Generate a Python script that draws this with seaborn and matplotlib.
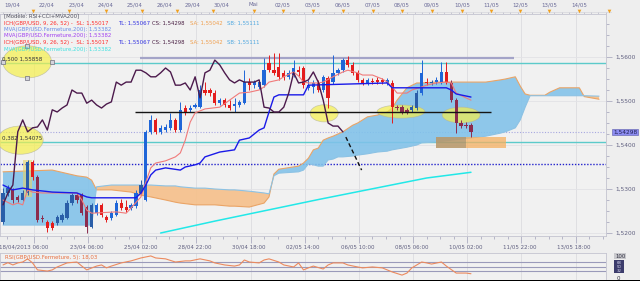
import numpy as np
import matplotlib
matplotlib.use("Agg")
import matplotlib.pyplot as plt
import matplotlib.transforms as mtrans
from matplotlib.patches import Rectangle, Ellipse
from matplotlib.ticker import MultipleLocator
import seaborn as sns

sns.set_theme(style="white")
plt.rcParams["font.family"] = ["DejaVu Sans"]

# ---------------- data ----------------
opens = [1.5225,1.5291,1.5298,1.5282,1.5275,1.5291,1.5361,1.5327,1.5234,1.5225,
         1.5223,1.5223,1.5230,1.5234,1.5268,1.5286,1.5286,1.5259,1.5214,1.5245,
         1.5264,1.5236,1.5234,1.5241,1.5268,1.5259,1.5257,1.5261,1.5291,1.5275,
         1.5430,1.5457,1.5430,1.5434,1.5439,1.5457,1.5434,1.5484,1.5480,1.5486,
         1.5486,1.5525,1.5525,1.5518,1.5495,1.5502,1.5491,1.5489,1.5491,1.5495,
         1.5543,1.5536,1.5532,1.5536,1.5586,1.5570,1.5577,1.5564,1.5555,1.5559,
         1.5570,1.5575,1.5530,1.5532,1.5541,1.5525,1.5552,1.5543,1.5564,1.5570,
         1.5593,1.5582,1.5564,1.5548,1.5541,1.5545,1.5548,1.5548,1.5541,1.5541,
         1.5486,1.5486,1.5480,1.5480,1.5484,1.5518,1.5543,1.5541,1.5543,1.5543,
         1.5566,1.5541,1.5502,1.5450,1.5445,1.5445]
closes = [1.5291,1.5302,1.5275,1.5275,1.5291,1.5361,1.5327,1.5230,1.5232,1.5211,
          1.5211,1.5236,1.5241,1.5268,1.5286,1.5275,1.5245,1.5214,1.5264,1.5264,
          1.5241,1.5230,1.5245,1.5268,1.5257,1.5252,1.5264,1.5291,1.5309,1.5430,
          1.5457,1.5430,1.5439,1.5441,1.5457,1.5434,1.5480,1.5475,1.5484,1.5491,
          1.5525,1.5518,1.5518,1.5495,1.5502,1.5491,1.5484,1.5493,1.5498,1.5543,
          1.5536,1.5543,1.5543,1.5570,1.5570,1.5564,1.5555,1.5555,1.5564,1.5575,
          1.5566,1.5536,1.5536,1.5541,1.5525,1.5555,1.5507,1.5564,1.5570,1.5593,
          1.5582,1.5564,1.5548,1.5541,1.5548,1.5543,1.5543,1.5543,1.5548,1.5486,
          1.5484,1.5475,1.5475,1.5486,1.5518,1.5564,1.5541,1.5543,1.5548,1.5566,
          1.5543,1.5502,1.5450,1.5443,1.5443,1.54298]
highs = [1.5302,1.5309,1.5302,1.5286,1.5298,1.5366,1.5366,1.5332,1.5241,1.5230,
         1.5227,1.5241,1.5245,1.5275,1.5291,1.5291,1.5291,1.5264,1.5268,1.5268,
         1.5268,1.5241,1.5250,1.5275,1.5277,1.5275,1.5268,1.5298,1.5320,1.5434,
         1.5468,1.5461,1.5445,1.5448,1.5473,1.5461,1.5498,1.5491,1.5491,1.5495,
         1.5536,1.5543,1.5530,1.5525,1.5507,1.5507,1.5502,1.5507,1.5502,1.5570,
         1.5552,1.5548,1.5548,1.5598,1.5605,1.5609,1.5609,1.5570,1.5570,1.5593,
         1.5580,1.5580,1.5548,1.5548,1.5548,1.5559,1.5557,1.5605,1.5575,1.5598,
         1.5602,1.5589,1.5570,1.5552,1.5552,1.5552,1.5555,1.5552,1.5552,1.5548,
         1.5491,1.5491,1.5484,1.5491,1.5525,1.5593,1.5552,1.5548,1.5555,1.5589,
         1.5589,1.5548,1.5507,1.5457,1.5452,1.5450]
lows = [1.5220,1.5284,1.5268,1.5270,1.5273,1.5286,1.5320,1.5225,1.5225,1.5202,
        1.5207,1.5218,1.5225,1.5232,1.5264,1.5268,1.5241,1.5200,1.5211,1.5241,
        1.5236,1.5225,1.5230,1.5239,1.5252,1.5248,1.5252,1.5257,1.5286,1.5273,
        1.5425,1.5425,1.5425,1.5430,1.5434,1.5430,1.5430,1.5468,1.5475,1.5484,
        1.5484,1.5514,1.5511,1.5491,1.5491,1.5486,1.5480,1.5475,1.5486,1.5493,
        1.5525,1.5530,1.5527,1.5532,1.5566,1.5559,1.5548,1.5548,1.5550,1.5555,
        1.5557,1.5530,1.5525,1.5518,1.5520,1.5520,1.5484,1.5539,1.5559,1.5566,
        1.5577,1.5559,1.5543,1.5536,1.5536,1.5539,1.5539,1.5539,1.5536,1.5450,
        1.5480,1.5470,1.5470,1.5475,1.5480,1.5514,1.5536,1.5536,1.5539,1.5539,
        1.5539,1.5498,1.5427,1.5439,1.5439,1.5418]

tenkan_x = [0,2,3,4,5,6,8,15,16,17,18,23,25,26,28,29,30,31,33,35,36,37,38,39,41,44,46,48,50,
            52,53,54,56,57,59,60,61,62,64,65,67,69,70,72,73,75,77,78,79,80,82,83,85,86,88,90,91,92,94,95]
tenkan = [1.5275,1.5264,1.5268,1.5264,1.5298,1.5293,1.5291,1.5291,1.5275,1.5252,1.5245,1.5248,
          1.5245,1.5257,1.5282,1.5316,1.5348,1.5359,1.5364,1.5373,1.5382,1.5411,1.5452,1.5473,
          1.5482,1.5486,1.5502,1.5518,1.5520,1.5525,1.5532,1.5543,1.5548,1.5555,1.5566,1.5557,
          1.5543,1.5541,1.5541,1.5543,1.5555,1.5566,1.5570,1.5564,1.5559,1.5559,1.5550,1.5543,
          1.5532,1.5518,1.5518,1.5525,1.5532,1.5536,1.5541,1.5543,1.5541,1.5518,1.5507,1.5502]

kijun_x = [0,2,4,6,10,15,17,18,27,28,29,30,31,33,36,37,39,40,41,44,47,48,50,52,53,54,55,56,61,62,
           78,79,90,91,92,95]
kijun = [1.5309,1.5298,1.5302,1.5298,1.5293,1.5291,1.5282,1.5280,1.5280,1.5291,1.5309,1.5332,
         1.5343,1.5348,1.5343,1.5350,1.5355,1.5359,1.5373,1.5384,1.5389,1.5411,1.5416,1.5434,
         1.5439,1.5475,1.5509,1.5514,1.5514,1.5536,1.5541,1.5530,1.5530,1.5525,1.5516,1.5509]

cloud_x = [0,10,15,17,18,19,22,26,28,30,33,35,36,39,41,43,46,47,50,53,54,55,56,60,61,62,63,64,65,66,
           67,68,69,71,72,74,76,78,79,80,82,84,85,88,91,95,98,101,102,104,105,106,107,110,111,113,
           117,118,121]
span_a = [1.5339,1.5343,1.5330,1.5327,1.5320,1.5298,1.5298,1.5293,1.5286,1.5282,1.5275,1.5270,
          1.5268,1.5264,1.5264,1.5264,1.5261,1.5261,1.5259,1.5268,1.5282,1.5334,1.5345,1.5352,
          1.5359,1.5370,1.5389,1.5393,1.5411,1.5416,1.5420,1.5425,1.5430,1.5445,1.5450,1.5464,
          1.5468,1.5475,1.5484,1.5502,1.5530,1.5541,1.5541,1.5543,1.5543,1.5543,1.5543,1.5548,
          1.5550,1.5555,1.5534,1.5516,1.5513,1.5513,1.5520,1.5530,1.5530,1.5510,1.5504]
span_b = [1.5218,1.5218,1.5218,1.5218,1.5218,1.5305,1.5309,1.5309,1.5309,1.5309,1.5307,1.5307,
          1.5305,1.5302,1.5302,1.5300,1.5298,1.5298,1.5295,1.5291,1.5289,1.5330,1.5336,1.5339,
          1.5343,1.5357,1.5355,1.5352,1.5352,1.5366,1.5368,1.5373,1.5373,1.5375,1.5377,1.5380,
          1.5384,1.5386,1.5389,1.5391,1.5395,1.5400,1.5405,1.5407,1.5411,1.5416,1.5420,1.5427,
          1.5430,1.5439,1.5457,1.5486,1.5512,1.5512,1.5512,1.5512,1.5512,1.5512,1.5511]

ma200_x = [32, 43, 64, 86, 95]
ma200 = [1.5200, 1.5227, 1.5276, 1.5325, 1.5338]

rsi_x = [0,1,2,3,4,5,6,7,9,10,11,13,15,16,17,19,20,21,22,24,26,28,30,31,33,35,37,38,40,42,43,45,
         47,48,49,50,52,53,54,56,57,59,60,61,62,63,65,66,67,69,70,72,73,75,77,79,81,82,83,85,86,87,
         89,90,92,93,94,95]
rsi = [57,67,57,66,70,84,66,35,30,35,48,66,70,52,35,52,57,44,52,66,75,88,97,88,84,70,75,75,84,75,
       66,57,52,57,79,70,66,79,84,70,57,48,66,35,44,52,39,57,66,66,57,48,44,48,44,26,12,21,44,70,
       66,61,70,52,21,21,21,18.03]
rsi_levels = [70, 50, 30]

fib_levels = [1.55858, 1.54075]
fib_labels = ["0,500 1,55858", "0,382 1,54075"]
grey_level, grey_span = 1.5597, (27.8, 103.7)
black_level, black_span = 1.5474, (26.8, 99.1)
dotted_blue_level = 1.5357
last_price = 1.54298
dash_x = [69.6, 72.8]
dash_y = [1.5418, 1.5343]

# ellipses: (centre bar, centre price, width in bars, height in price)
ellipses = [(4.9, 1.5589, 9.9, 0.0073), (3.5, 1.5411, 9.3, 0.0064), (65.2, 1.5472, 5.7, 0.0039),
            (80.8, 1.5476, 9.7, 0.0030), (93.0, 1.5468, 7.7, 0.0036)]

price_ticks = [1.52, 1.53, 1.54, 1.55, 1.56]
price_tick_labels = ["1,5200", "1,5300", "1,5400", "1,5500", "1,5600"]
time_labels = ["18/04/2013 06:00", "23/04 06:00", "25/04 02:00", "28/04 22:00", "30/04 18:00",
               "02/05 14:00", "06/05 10:00", "08/05 06:00", "10/05 02:00", "11/05 22:00", "13/05 18:00"]
day_labels = ["19/04", "22/04", "23/04", "24/04", "25/04", "26/04", "29/04", "30/04", "Mai", "02/05",
              "03/05", "06/05", "07/05", "08/05", "09/05", "10/05", "11/05", "12/05", "13/05", "14/05"]

# ---------------- layout ----------------
W, H = 640, 281
PX0, PXB = 3.0, 4.926          # pixel of bar 0, pixels per bar


def bx(px):
    return (np.asarray(px, dtype=float) - PX0) / PXB


XLIM = (float(bx(0)), float(bx(606)))
YLIM = (1.519318, 1.569773)

fig = plt.figure(figsize=(W / 100, H / 100), dpi=100)
fig.patch.set_facecolor("#eeeeee")

ax = fig.add_axes([0, 45 / H, 606 / W, 222 / H])
ax.set_facecolor("#f1f1f1")

idx = np.arange(len(closes))
o, c, hi, lo = map(np.array, (opens, closes, highs, lows))
cx, sa, sb = np.array(cloud_x), np.array(span_a), np.array(span_b)

grid_pos = 6.25 + 11 * np.arange(len(time_labels))
for g in grid_pos:
    ax.axvline(g, color="#dcdce0", lw=0.6, zorder=0)
for p in price_ticks:
    ax.axhline(p, color="#e2e2e6", lw=0.6, zorder=0)

# horizontal levels
for lv in fib_levels:
    ax.axhline(lv, color="#5ccaca", lw=1.0, zorder=1.5)
ax.hlines(grey_level, *grey_span, color="#a4a4c8", lw=1.6, zorder=1.5)
ax.axhline(dotted_blue_level, color="#2222cc", lw=1.0, ls=(0, (1, 1.2)), zorder=1.5)
ax.axhline(last_price, color="#a8a8e0", lw=0.8, ls=(0, (1, 1.5)), zorder=1.5)

# Ichimoku cloud
ax.fill_between(cx, sa, sb, where=sa >= sb, interpolate=True, color="#80c2ea", alpha=0.88, lw=0, zorder=2)
ax.fill_between(cx, sa, sb, where=sa < sb, interpolate=True, color="#f6c08a", alpha=0.9, lw=0, zorder=2)
sns.lineplot(x=cloud_x, y=span_a, ax=ax, color="#eaa466", linewidth=0.8, zorder=2.2,
             legend=False, estimator=None, sort=False)
sns.lineplot(x=cloud_x, y=span_b, ax=ax, color="#8cc2e4", linewidth=0.8, zorder=2.2,
             legend=False, estimator=None, sort=False)

# yellow ellipses & highlight rectangles
for (ex, ey, ew, eh) in ellipses:
    ax.add_patch(Ellipse((ex, ey), ew, eh, facecolor="#f6f04a", edgecolor="#b4b49a",
                         lw=0.5, alpha=0.7, zorder=3))
e0 = ellipses[0]
ax.scatter([e0[0], e0[0] - e0[2] / 2, e0[0] + e0[2] / 2, e0[0]],
           [e0[1] + e0[3] / 2, e0[1], e0[1], e0[1] - e0[3] / 2],
           marker="s", s=5, facecolor="#d4d4dc", edgecolor="#707080", lw=0.5, zorder=9)
ax.add_patch(Rectangle((4.05, 1.5282), 1.85, 0.0084, facecolor="#e4d46a", alpha=0.6, lw=0, zorder=3))
ax.add_patch(Rectangle((bx(436), 1.5393), bx(506) - bx(436), 0.0025, facecolor="#f6b060",
                       alpha=0.75, lw=0, zorder=3))
ax.add_patch(Rectangle((bx(436), 1.5393), bx(466) - bx(436), 0.0025, facecolor="#808070",
                       alpha=0.45, lw=0, zorder=3.1))

# candles
ca = np.interp(idx, cx, sa)
cb = np.interp(idx, cx, sb)
mid = (o + c) / 2
inside = (mid > np.minimum(ca, cb)) & (mid < np.maximum(ca, cb))
up = c >= o
cols = np.where(up, np.where(inside, "#2a5ea8", "#1f66d8"),
                np.where(inside, "#8c2c4e", "#e41c1c"))
ax.vlines(idx, lo, hi, colors=cols, lw=0.7, zorder=4)
ax.bar(idx, np.maximum(np.abs(c - o), 0.00012), bottom=np.minimum(o, c), width=0.66,
       color=cols, lw=0, zorder=4.1)

# indicator lines
ax.hlines(black_level, *black_span, color="#151515", lw=1.0, zorder=4.5)
sns.lineplot(x=ma200_x, y=ma200, ax=ax, color="#22e8e8", linewidth=1.1, zorder=4.6,
             legend=False, estimator=None, sort=False)
sns.lineplot(x=tenkan_x, y=tenkan, ax=ax, color="#f07a7a", linewidth=0.8, zorder=5,
             legend=False, estimator=None, sort=False)
sns.lineplot(x=kijun_x, y=kijun, ax=ax, color="#1a1ae8", linewidth=1.0, zorder=5.1,
             legend=False, estimator=None, sort=False)
sns.lineplot(x=idx[26:] - 26, y=c[26:], ax=ax, color="#4c1a4c", linewidth=1.0, zorder=5.2,
             legend=False, estimator=None, sort=False)
ax.plot(dash_x, dash_y, color="#111111", lw=1.0, ls=(0, (3, 2)), zorder=5.3)

# fib labels
for lv, lab in zip(fib_levels, fib_labels):
    ax.text(bx(2), lv + 0.0009 if lv > 1.55 else lv + 0.0008, lab, fontsize=4, color="#303038",
            ha="left", va="center", zorder=9)

ax.set_xlabel("")
ax.set_ylabel("")

# price axis on the right
ax.yaxis.tick_right()
ax.set_yticks(price_ticks)
ax.set_yticklabels(price_tick_labels)
ax.yaxis.set_minor_locator(MultipleLocator(0.0025))
ax.tick_params(axis="y", which="both", right=True, left=False, labelsize=4.2,
               labelcolor="#606080", color="#a0a0b8", width=0.5, pad=3)
ax.tick_params(axis="y", which="major", length=4)
ax.tick_params(axis="y", which="minor", length=2)

# time axis at the bottom
ax.set_xticks(grid_pos)
ax.set_xticklabels([""] * len(grid_pos))
minor_ticks = np.arange(grid_pos[0] - 11, XLIM[1], 2.75)
minor_ticks = minor_ticks[(minor_ticks > XLIM[0]) & (minor_ticks < XLIM[1])]
ax.set_xticks(minor_ticks, minor=True)
ax.tick_params(axis="x", which="both", bottom=True, color="#a0a0b8", width=0.5)
ax.tick_params(axis="x", which="major", length=5)
ax.tick_params(axis="x", which="minor", length=2.5)
ax.set_xlim(*XLIM)
ax.set_ylim(*YLIM)
trans = mtrans.blended_transform_factory(ax.transData, ax.transAxes)
for k, lab in enumerate(time_labels):
    xpos = bx(24) if k == 0 else grid_pos[k] - 0.3
    ax.text(xpos, -11 / 222, lab, transform=trans, fontsize=4, color="#606080",
            ha="center", va="center")
for s in ax.spines.values():
    s.set_color("#c4c4d0")
    s.set_linewidth(0.6)

# last price box on the axis
ax.text(613 / 606, last_price, "1,54298", transform=mtrans.blended_transform_factory(ax.transAxes, ax.transData),
        fontsize=4.2, color="#202050", ha="left", va="center",
        bbox=dict(boxstyle="square,pad=0.15", fc="#8c8cf2", ec="#5a5aa8", lw=0.4), zorder=10)

# ---------------- top calendar strip ----------------
ax_t = fig.add_axes([0, 267 / H, 612 / W, 14 / H])
ax_t.axis("off")
top_label_px = [12, 47, 77, 106, 135, 165, 193, 222, 253, 283, 313, 343, 373, 402, 432, 462, 491, 520, 549, 579]
top_tri_px = [33, 69, 106, 142, 177, 213, 254, 283, 313, 343, 373, 402, 432, 462, 491, 520, 549, 579, 609]
for px, lab in zip(top_label_px, day_labels):
    ax_t.text(bx(px), 5, lab, fontsize=4, color="#6a6a98", ha="center", va="center")
ax_t.vlines(bx(np.arange(3, 612, 7.35)), 11.5, 14, color="#a8a8bc", lw=0.4)
ax_t.hlines(11.5, bx(0), bx(612), color="#d0d0d8", lw=0.4)
ax_t.scatter(bx(np.array(top_tri_px)), [11.3] * len(top_tri_px), marker="v", s=7,
             color="#f0a020", lw=0, zorder=3)
ax_t.set_xlim(float(bx(0)), float(bx(612)))
ax_t.set_ylim(14, 0)

# ---------------- RSI panel ----------------
ax_r = fig.add_axes([0, 0.5 / H, 606 / W, 27.5 / H])
ax_r.set_facecolor("#f1f1f1")
for g in grid_pos:
    ax_r.axvline(g, color="#dcdce0", lw=0.6, zorder=0)
for lv in rsi_levels:
    ax_r.axhline(lv, color="#9a9aba", lw=0.8, zorder=1)
sns.lineplot(x=rsi_x, y=rsi, ax=ax_r, color="#ec8a5e", linewidth=0.8, zorder=2,
             legend=False, estimator=None, sort=False)
ax_r.set_xticks([])
ax_r.set_yticks([])
ax_r.set_xlim(*XLIM)
ax_r.set_ylim(-12, 110)
ax_r.set_xlabel("")
ax_r.set_ylabel("")
for s in ax_r.spines.values():
    s.set_color("#c4c4d0")
    s.set_linewidth(0.6)
fig.text(5 / W, 1 - 257 / H, "RSI(GBP/USD.Fermeture, 5): 18,03", fontsize=3.9, color="#e87040",
         ha="left", va="center")
fig.text(615 / W, 1 - 256 / H, "100", fontsize=3.9, color="#303040", ha="left", va="center",
         bbox=dict(boxstyle="square,pad=0.1", fc="#c8c8cc", ec="none"))
fig.patches.append(Rectangle((614 / W, 1 - 273 / H), 10 / W, 13 / H, transform=fig.transFigure,
                             facecolor="#3c3c6c", edgecolor="none"))
for yy, lab in [(263, "68"), (267.5, "50"), (271.5, "32")]:
    fig.text(619 / W, 1 - yy / H, lab, fontsize=2.8, color="#d8d8f0", ha="center", va="center")
fig.text(617 / W, 1 - 278.5 / H, "0", fontsize=3.9, color="#303040", ha="left", va="center")
fig.patches.append(Rectangle((0, 0), 1, 1 / H, transform=fig.transFigure, facecolor="black",
                             edgecolor="none"))

# ---------------- legend texts ----------------
def ftext(px, py, s, col):
    fig.text(px / W, 1 - py / H, s, fontsize=3.9, color=col, ha="left", va="center", zorder=20)


ich_parts = [(4, "ICH(GBP/USD, 9, 26, 52) -  SL: 1,55017", "#ff3030"), (118, "TL: 1,55067", "#3030e0"),
             (152, "CS: 1,54298", "#4a2044"), (190, "SA: 1,55042", "#f0a050"), (227, "SB: 1,55111", "#50a8e0")]
ftext(4, 17, "[Modèle: RSI+CCI+MVA200]", "#50505e")
for px, s, col in ich_parts:
    ftext(px, 23.5, s, col)
ftext(4, 30, "MVA(GBP/USD.Fermeture,200): 1,53382", "#6a8ce8")
ftext(4, 36, "MVA(GBP/USD.Fermeture,200): 1,53382", "#a040f0")
for px, s, col in ich_parts:
    ftext(px, 42.5, s, col)
ftext(4, 49, "MVA(GBP/USD.Fermeture,200): 1,53382", "#40e0e0")

fig.savefig("out.png", dpi=100, facecolor=fig.get_facecolor())
